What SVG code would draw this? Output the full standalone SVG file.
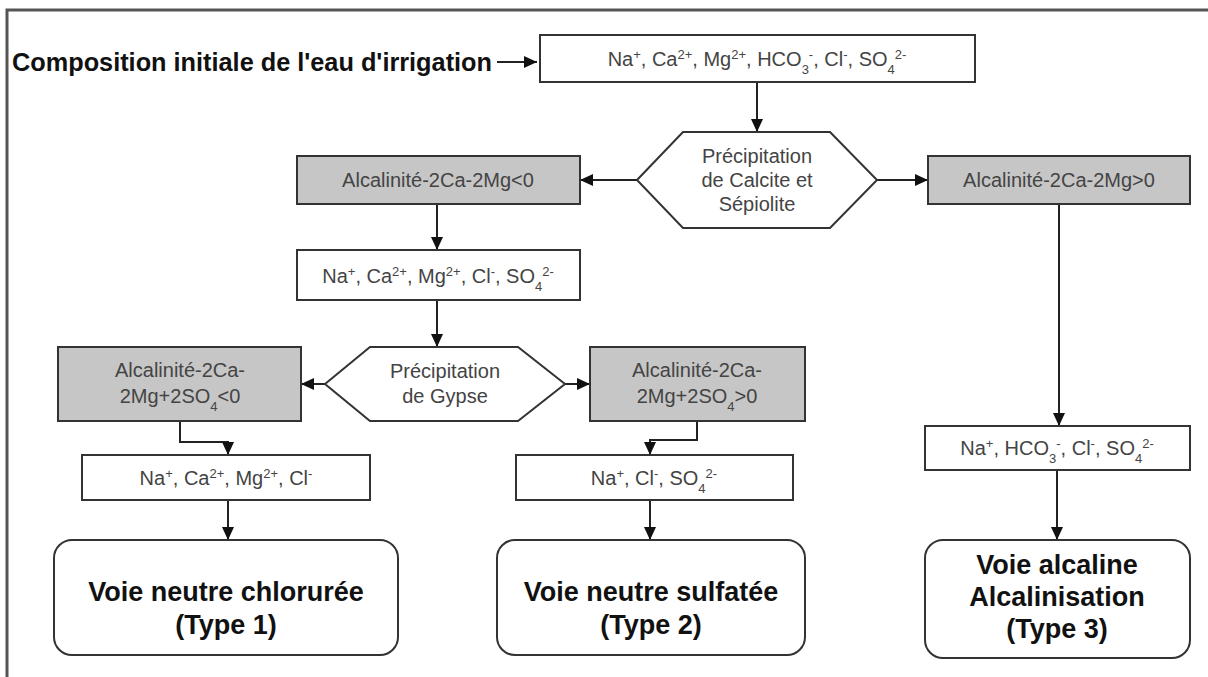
<svg xmlns="http://www.w3.org/2000/svg" width="1208" height="677" viewBox="0 0 1208 677">
<style>
.t{font-family:"Liberation Sans",Arial,sans-serif;font-size:20px;fill:#444;text-anchor:middle}
.tb{font-family:"Liberation Sans",Arial,sans-serif;font-weight:bold;font-size:27px;fill:#111;text-anchor:middle}
.box{fill:#fff;stroke:#333;stroke-width:2}
.gray{fill:#c6c6c6;stroke:#333;stroke-width:2}
.term{fill:#fff;stroke:#333;stroke-width:2}
.c{fill:none;stroke:#222;stroke-width:2;marker-end:url(#ah)}
.sup{font-size:13px}
</style>
<defs>
<marker id="ah" markerUnits="userSpaceOnUse" markerWidth="14" markerHeight="14" refX="13" refY="7" orient="auto">
<path d="M0,1 L13,7 L0,13 Z" fill="#111"/>
</marker>
</defs>
<rect width="1208" height="677" fill="#fff"/>
<path d="M7,677 V10 H1208" fill="none" stroke="#555" stroke-width="3"/>

<g id="title">
<text x="12" y="71" font-family="Liberation Sans, Arial, sans-serif" font-weight="bold" font-size="25" fill="#111" textLength="480" lengthAdjust="spacingAndGlyphs">Composition initiale de l'eau d'irrigation</text>
</g>

<g id="connectors">
<path class="c" d="M497,62 H537"/>
<path class="c" d="M757,82 V132"/>
<path class="c" d="M637,180 H580"/>
<path class="c" d="M877,180 H928"/>
<path class="c" d="M437,204 V250"/>
<path class="c" d="M437,300 V347"/>
<path class="c" d="M325,384 H301"/>
<path class="c" d="M565,384 H590"/>
<path class="c" d="M180,421 V442 H228 V455"/>
<path class="c" d="M228,500 V540"/>
<path class="c" d="M697,421 V440 H650 V455"/>
<path class="c" d="M650,500 V540"/>
<path class="c" d="M1059,204 V426"/>
<path class="c" d="M1057,470 V540"/>
</g>

<g id="n-initial">
<rect class="box" x="540" y="35" width="435" height="47"/>
<text class="t" x="757" y="66">Na<tspan class="sup" baseline-shift="super">+</tspan>, Ca<tspan class="sup" baseline-shift="super">2+</tspan>, Mg<tspan class="sup" baseline-shift="super">2+</tspan>, HCO<tspan class="sup" baseline-shift="sub">3</tspan><tspan class="sup" baseline-shift="super">-</tspan>, Cl<tspan class="sup" baseline-shift="super">-</tspan>, SO<tspan class="sup" baseline-shift="sub">4</tspan><tspan class="sup" baseline-shift="super">2-</tspan></text>
</g>

<g id="n-calcite">
<polygon class="box" points="637,180 683,132 830,132 877,180 830,228 683,228"/>
<text class="t" x="757" y="163">Précipitation</text>
<text class="t" x="757" y="187">de Calcite et</text>
<text class="t" x="757" y="211">Sépiolite</text>
</g>

<g id="n-alc-neg">
<rect class="gray" x="297" y="156" width="283" height="48"/>
<text class="t" x="438" y="187">Alcalinité-2Ca-2Mg&lt;0</text>
</g>

<g id="n-alc-pos">
<rect class="gray" x="928" y="156" width="262" height="48"/>
<text class="t" x="1059" y="187">Alcalinité-2Ca-2Mg&gt;0</text>
</g>

<g id="n-ions2">
<rect class="box" x="297" y="250" width="283" height="50"/>
<text class="t" x="438" y="283">Na<tspan class="sup" baseline-shift="super">+</tspan>, Ca<tspan class="sup" baseline-shift="super">2+</tspan>, Mg<tspan class="sup" baseline-shift="super">2+</tspan>, Cl<tspan class="sup" baseline-shift="super">-</tspan>, SO<tspan class="sup" baseline-shift="sub">4</tspan><tspan class="sup" baseline-shift="super">2-</tspan></text>
</g>

<g id="n-gypse">
<polygon class="box" points="325,384 370,347 518,347 565,384 518,421 370,421"/>
<text class="t" x="445" y="378">Précipitation</text>
<text class="t" x="445" y="403">de Gypse</text>
</g>

<g id="n-gyp-neg">
<rect class="gray" x="58" y="347" width="243" height="74"/>
<text class="t" x="180" y="377">Alcalinité-2Ca-</text>
<text class="t" x="180" y="403">2Mg+2SO<tspan class="sup" baseline-shift="sub">4</tspan>&lt;0</text>
</g>

<g id="n-gyp-pos">
<rect class="gray" x="590" y="347" width="215" height="74"/>
<text class="t" x="697" y="377">Alcalinité-2Ca-</text>
<text class="t" x="697" y="403">2Mg+2SO<tspan class="sup" baseline-shift="sub">4</tspan>&gt;0</text>
</g>

<g id="n-ions-t1">
<rect class="box" x="82" y="455" width="288" height="45"/>
<text class="t" x="226" y="485">Na<tspan class="sup" baseline-shift="super">+</tspan>, Ca<tspan class="sup" baseline-shift="super">2+</tspan>, Mg<tspan class="sup" baseline-shift="super">2+</tspan>, Cl<tspan class="sup" baseline-shift="super">-</tspan></text>
</g>

<g id="n-ions-t2">
<rect class="box" x="516" y="455" width="277" height="45"/>
<text class="t" x="654" y="485">Na<tspan class="sup" baseline-shift="super">+</tspan>, Cl<tspan class="sup" baseline-shift="super">-</tspan>, SO<tspan class="sup" baseline-shift="sub">4</tspan><tspan class="sup" baseline-shift="super">2-</tspan></text>
</g>

<g id="n-ions-t3">
<rect class="box" x="925" y="426" width="265" height="44"/>
<text class="t" x="1057" y="455">Na<tspan class="sup" baseline-shift="super">+</tspan>, HCO<tspan class="sup" baseline-shift="sub">3</tspan><tspan class="sup" baseline-shift="super">-</tspan>, Cl<tspan class="sup" baseline-shift="super">-</tspan>, SO<tspan class="sup" baseline-shift="sub">4</tspan><tspan class="sup" baseline-shift="super">2-</tspan></text>
</g>

<g id="n-type1">
<rect class="term" x="54" y="540" width="344" height="115" rx="18"/>
<text class="tb" x="226" y="601">Voie neutre chlorurée</text>
<text class="tb" x="226" y="634">(Type 1)</text>
</g>

<g id="n-type2">
<rect class="term" x="497" y="540" width="308" height="115" rx="18"/>
<text class="tb" x="651" y="601">Voie neutre sulfatée</text>
<text class="tb" x="651" y="634">(Type 2)</text>
</g>

<g id="n-type3">
<rect class="term" x="925" y="540" width="265" height="118" rx="18"/>
<text class="tb" x="1057" y="574">Voie alcaline</text>
<text class="tb" x="1057" y="606">Alcalinisation</text>
<text class="tb" x="1057" y="638">(Type 3)</text>
</g>
</svg>
